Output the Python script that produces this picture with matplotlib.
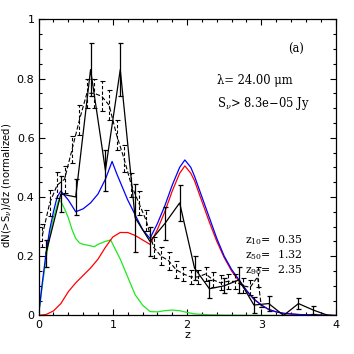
import matplotlib
matplotlib.use('Agg')
import matplotlib.pyplot as plt
from matplotlib.ticker import MultipleLocator

plt.rcParams['mathtext.fontset'] = 'dejavuserif'

# solid histogram with errors (bin width 0.2)
z_bin = [0.1, 0.3, 0.5, 0.7, 0.9, 1.1, 1.3, 1.5, 1.7, 1.9, 2.1, 2.3, 2.5, 2.7,
         2.9, 3.1, 3.3, 3.5, 3.7, 3.9]
n_bin = [0.21, 0.41, 0.40, 0.83, 0.49, 0.83, 0.33, 0.25, 0.31, 0.38, 0.16, 0.09,
         0.10, 0.12, 0.035, 0.04, 0.0, 0.04, 0.018, 0.0]
e_bin = [0.045, 0.06, 0.06, 0.09, 0.07, 0.09, 0.115, 0.05, 0.055, 0.06, 0.04, 0.03,
         0.025, 0.045, 0.028, 0.025, 0.0, 0.02, 0.014, 0.0]

# dashed histogram with errors (bin width 0.1)
z_fine = [0.05, 0.15, 0.25, 0.35, 0.45, 0.55, 0.65, 0.75, 0.85, 0.95, 1.05, 1.15,
          1.25, 1.35, 1.45, 1.55, 1.65, 1.75, 1.85, 1.95, 2.05, 2.15, 2.25, 2.35,
          2.45, 2.55, 2.65, 2.75, 2.85, 2.95, 3.0]
n_fine = [0.27, 0.38, 0.44, 0.46, 0.56, 0.66, 0.75, 0.75, 0.74, 0.71, 0.61, 0.53,
          0.44, 0.38, 0.32, 0.23, 0.20, 0.185, 0.155, 0.14, 0.13, 0.13, 0.14, 0.12,
          0.11, 0.115, 0.115, 0.10, 0.095, 0.13, 0.03]
e_fine = [0.04, 0.045, 0.045, 0.045, 0.045, 0.05, 0.05, 0.05, 0.05, 0.05, 0.05, 0.045,
          0.04, 0.04, 0.035, 0.035, 0.03, 0.03, 0.03, 0.025, 0.025, 0.025, 0.025, 0.025,
          0.025, 0.025, 0.025, 0.025, 0.025, 0.035, 0.0]

# model curves
z_blue = [0.0, 0.05, 0.1, 0.15, 0.2, 0.25, 0.3, 0.4, 0.5, 0.6, 0.7, 0.8, 0.9, 0.99,
          1.05, 1.1, 1.2, 1.3, 1.4, 1.5, 1.6, 1.7, 1.8, 1.9, 1.97, 2.05, 2.1, 2.2,
          2.3, 2.4, 2.5, 2.6, 2.7, 2.8, 2.9, 3.0, 3.1, 3.2, 3.3, 3.5, 4.0]
n_blue = [0.0, 0.11, 0.21, 0.29, 0.35, 0.40, 0.42, 0.39, 0.35, 0.36, 0.38, 0.41, 0.46,
          0.52, 0.48, 0.45, 0.39, 0.34, 0.29, 0.26, 0.31, 0.37, 0.44, 0.50, 0.525,
          0.50, 0.47, 0.40, 0.33, 0.26, 0.20, 0.155, 0.12, 0.085, 0.055, 0.035, 0.02,
          0.012, 0.007, 0.003, 0.0]

z_red = [0.0, 0.1, 0.2, 0.3, 0.4, 0.5, 0.6, 0.7, 0.8, 0.9, 1.0, 1.1, 1.2, 1.3, 1.4,
         1.5, 1.6, 1.7, 1.8, 1.9, 1.97, 2.05, 2.1, 2.2, 2.3, 2.4, 2.5, 2.6, 2.7, 2.8,
         2.9, 3.0, 3.1, 3.2, 3.3, 3.5, 4.0]
n_red = [0.0, 0.003, 0.015, 0.04, 0.08, 0.11, 0.135, 0.16, 0.19, 0.23, 0.265, 0.28,
         0.28, 0.27, 0.255, 0.24, 0.29, 0.35, 0.42, 0.48, 0.505, 0.48, 0.455, 0.385,
         0.315, 0.25, 0.195, 0.15, 0.115, 0.082, 0.055, 0.035, 0.02, 0.012, 0.007,
         0.003, 0.0]

z_green = [0.0, 0.05, 0.1, 0.15, 0.2, 0.27, 0.3, 0.35, 0.4, 0.45, 0.5, 0.55, 0.6, 0.7,
           0.75, 0.8, 0.9, 0.97, 1.0, 1.1, 1.2, 1.3, 1.4, 1.5, 1.6, 1.7, 1.8, 1.9,
           2.0, 2.1, 2.3, 2.5, 3.0, 4.0]
n_green = [0.0, 0.1, 0.19, 0.27, 0.33, 0.39, 0.385, 0.36, 0.33, 0.29, 0.26, 0.245,
           0.24, 0.235, 0.232, 0.24, 0.25, 0.255, 0.24, 0.19, 0.13, 0.07, 0.035, 0.013,
           0.012, 0.016, 0.018, 0.016, 0.01, 0.005, 0.002, 0.001, 0.0, 0.0]

fig = plt.figure(figsize=(3.54, 3.54), dpi=100)
ax = fig.add_axes([0.109, 0.109, 0.839, 0.8365])

ax.plot(z_green, n_green, color='#1ee81e', lw=0.9)
ax.plot(z_red, n_red, color='red', lw=0.9)
ax.plot(z_blue, n_blue, color='blue', lw=0.9)

eb = ax.errorbar(z_fine, n_fine, yerr=e_fine, color='black', lw=0.8, ls='--',
                 dashes=(4, 2), capsize=1.8, capthick=0.8, elinewidth=0.8)
for lc in eb[2]:
    lc.set_linestyle((0, (3, 2)))
ax.errorbar(z_bin, n_bin, yerr=e_bin, color='black', lw=0.9, capsize=1.8,
            capthick=0.9, elinewidth=0.9)

ax.set_xlim(0, 4)
ax.set_ylim(0, 1)
ax.xaxis.set_major_locator(MultipleLocator(1))
ax.xaxis.set_minor_locator(MultipleLocator(0.2))
ax.yaxis.set_major_locator(MultipleLocator(0.2))
ax.yaxis.set_minor_locator(MultipleLocator(0.05))
ax.set_yticks([0, 0.2, 0.4, 0.6, 0.8, 1.0])
ax.set_yticklabels(['0', '0.2', '0.4', '0.6', '0.8', '1'])
ax.tick_params(which='both', direction='in', top=True, right=True, labelsize=8,
               width=0.8)
ax.tick_params(which='major', length=4.5, pad=3)
ax.tick_params(which='minor', length=2.5)
for s in ax.spines.values():
    s.set_linewidth(0.9)

ax.set_xlabel('z', fontsize=8, labelpad=0)
ax.set_ylabel(r'dN(>S$_\nu$)/dz (normalized)', fontsize=7.3, labelpad=2)
ax.yaxis.set_label_coords(-0.085, 0.44)

tf = dict(fontsize=8.3, family='DejaVu Serif', transform=ax.transAxes)
ax.text(0.84, 0.885, '(a)', **tf)
ax.text(0.60, 0.78, '\u03bb= 24.00 \u03bcm', **tf)
ax.text(0.60, 0.705, r'S$_\nu$> 8.3e$-$05 Jy', **tf)
zf = dict(tf, fontsize=7.9)
ax.text(0.695, 0.245, r'z$_{10}$=  0.35', **zf)
ax.text(0.695, 0.193, r'z$_{50}$=  1.32', **zf)
ax.text(0.695, 0.141, r'z$_{90}$=  2.35', **zf)

fig.savefig('out.png', dpi=100)
